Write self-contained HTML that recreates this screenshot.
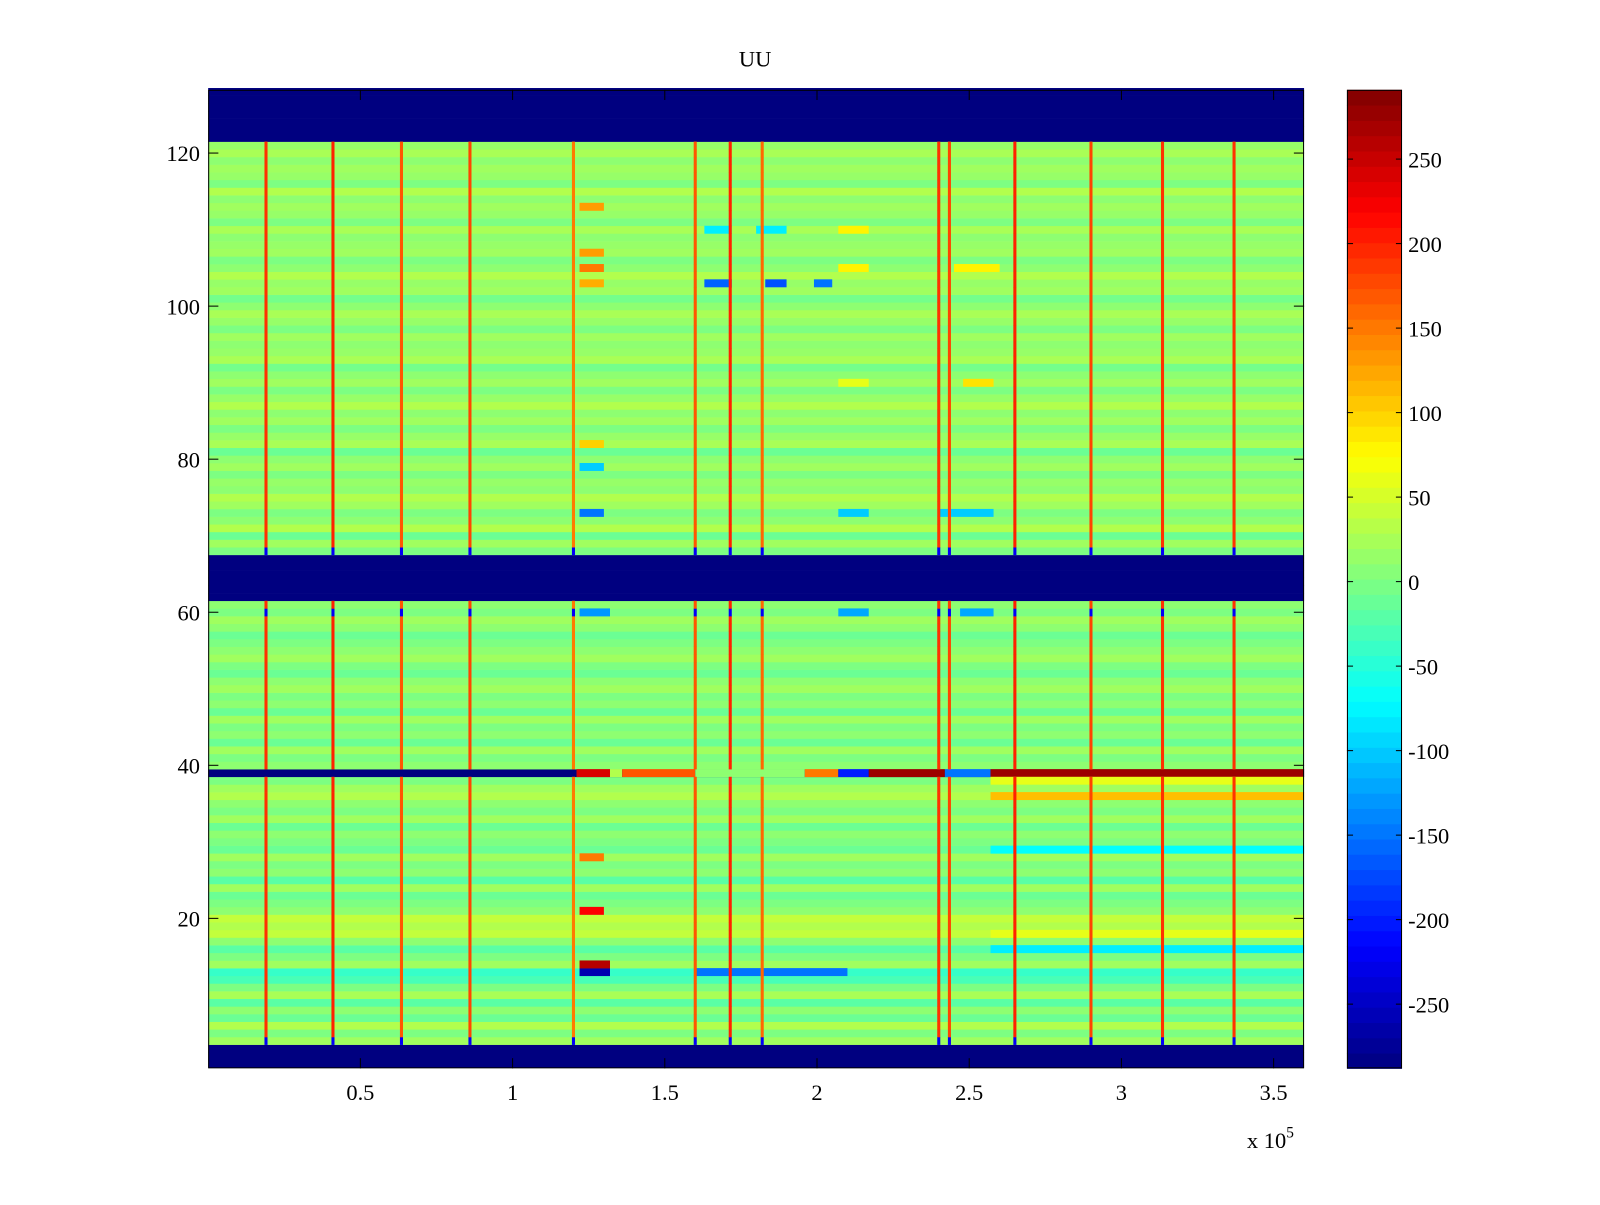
<!DOCTYPE html>
<html><head><meta charset="utf-8"><style>
body{margin:0;background:#fff;}
svg text{font-family:"Liberation Serif",serif;font-size:22px;fill:#000;}
</style></head><body>
<svg id="fig" width="1600" height="1200" xmlns="http://www.w3.org/2000/svg">
<rect width="1600" height="1200" fill="#fff"/>
<g transform="scale(1.0204)">
<text x="740" y="65" text-anchor="middle">UU</text>
<g id="heat"></g>
<g id="axes"></g>
<g id="cbar"></g>
<text x="1222" y="1125">x 10<tspan dy="-10" font-size="15">5</tspan></text>
</g>
</svg>
<script>
// row base values, rows 1..128
const rowBase = [-288,-288,-288,
20,0,30,-10,10,-20,25,0,-30,-40,20,0,-20,10,40,30,40,10,0,-10,20,-20,10,0,20,-10,0,10,-10,20,0,10,30,20,0,-288,10,0,20,-10,10,0,20,-10,10,0,20,10,-10,0,20,10,0,-10,10,20,0,10,
-288,-288,-288,-288,-288,-288,
0,20,-10,30,10,0,20,30,10,15,0,20,10,-10,25,15,0,20,10,30,15,0,20,10,-5,25,15,10,20,0,15,25,10,-5,20,15,30,10,0,20,15,10,25,0,15,20,10,30,0,15,20,10,25,15,
-288,-288,-288,-288,-288,-288,-288];
// segments: row, x-start (1e5), x-end (1e5), value
const segRows = [39,39,39,39,39,39,39,39,39,36,38,13,14,13,29,16,18,21,28,105,107,103,113,73,79,82,103,103,103,110,110,105,110,90,90,105,73,73,60,60,60];
const segX0 = [1.21,1.32,1.36,1.6,1.96,2.07,2.17,2.42,2.57,2.57,2.57,1.22,1.22,1.6,2.57,2.57,2.57,1.22,1.22,1.22,1.22,1.22,1.22,1.22,1.22,1.22,1.63,1.83,1.99,1.63,1.8,2.07,2.07,2.07,2.48,2.45,2.07,2.4,1.22,2.07,2.47];
const segX1 = [1.32,1.36,1.6,1.96,2.07,2.17,2.42,2.57,3.6,3.6,3.6,1.32,1.32,2.1,3.6,3.6,3.6,1.3,1.3,1.3,1.3,1.3,1.3,1.3,1.3,1.3,1.72,1.9,2.05,1.72,1.9,2.17,2.17,2.17,2.58,2.6,2.17,2.58,1.32,2.17,2.58];
const segVal = [240,30,170,10,150,-200,275,-150,275,110,60,-260,260,-150,-70,-80,60,220,150,150,130,120,130,-150,-100,100,-160,-170,-150,-80,-80,80,80,60,90,80,-100,-100,-130,-120,-120];
// vertical stripe events (x in 1e5)
const stripeX = [0.19,0.41,0.635,0.86,1.2,1.6,1.715,1.82,2.4,2.435,2.65,2.9,3.135,3.37];
const stripeVal = [190,200,170,180,150,170,200,160,190,180,200,180,190,190];
const xTicks = [0.5,1,1.5,2,2.5,3,3.5];
const yTicks = [20,40,60,80,100,120];
const cTicks = [-250,-200,-150,-100,-50,0,50,100,150,200,250];
const NS='http://www.w3.org/2000/svg';
const X0=204,X1=1278,XMAX=3.6,Y0=1046.25,DY=7.5;
const cMin=-288,cMax=291;
const xs=v=>X0+v/XMAX*(X1-X0);
const ys=r=>Y0-(r-0.5)*DY;
function jet(v){let t=(v-cMin)/(cMax-cMin);t=Math.max(0,Math.min(1,t));
 const c=x=>Math.round(255*Math.max(0,Math.min(1,1.5-Math.abs(4*t-x))));
 return `rgb(${c(3)},${c(2)},${c(1)})`;}
function rect(g,x,y,w,h,f,name){const r=document.createElementNS(NS,'rect');
 r.setAttribute('x',x);r.setAttribute('y',y);r.setAttribute('width',w);r.setAttribute('height',h);r.setAttribute('fill',f);
 
 
 g.appendChild(r);return r;}
const heat=document.getElementById('heat');
rowBase.forEach((v,i)=>{const r=i+1;rect(heat,X0,ys(r+0.5),X1-X0,DY+0.3,jet(v),'heat-row');});
segRows.forEach((r,i)=>{rect(heat,xs(segX0[i]),ys(r+0.5),xs(segX1[i])-xs(segX0[i]),DY+0.3,jet(segVal[i]),'heat-segment');});
stripeX.forEach((sx,i)=>{
 for(let r=4;r<=121;r++){ if(r>=62&&r<=67) continue; if(r===39) continue;
  let v=stripeVal[i]; if(r===68||r===60||r===4) v=-220;
  rect(heat,xs(sx)-1.5,ys(r+0.5),3,DY+0.3,jet(v),'heat-stripe');}
});
const ax=document.getElementById('axes');
function line(g,x1,y1,x2,y2,name){const l=document.createElementNS(NS,'line');
 l.setAttribute('x1',x1);l.setAttribute('y1',y1);l.setAttribute('x2',x2);l.setAttribute('y2',y2);l.setAttribute('stroke','#000');l.setAttribute('stroke-width','1');
 
 
 g.appendChild(l);}
function text(g,x,y,s,anchor,name){const t=document.createElementNS(NS,'text');t.setAttribute('x',x);t.setAttribute('y',y);t.setAttribute('text-anchor',anchor);t.textContent=s;
 
 
 g.appendChild(t);}
const frame=rect(ax,X0+0.5,88.5,X1-X0-1,958,'none','plot-frame');frame.setAttribute('stroke','#000');
xTicks.forEach(v=>{const x=xs(v);line(ax,x,1047,x,1037,'x-tick');line(ax,x,88,x,98,'x-tick');text(ax,x,1078,String(v),'middle','x-tick-label');});
yTicks.forEach(v=>{const y=1050-v*7.5;line(ax,X0,y,X0+10,y,'y-tick');line(ax,X1,y,X1-10,y,'y-tick');text(ax,X0-8,y+8,String(v),'end','y-tick-label');});
const cb=document.getElementById('cbar');
const CX0=1320,CX1=1374,CY0=88,CY1=1047,NB=64;
for(let i=0;i<NB;i++){const v=cMin+(i+0.5)*(cMax-cMin)/NB;const h=(CY1-CY0)/NB;rect(cb,CX0,CY1-(i+1)*h,CX1-CX0,h+0.5,jet(v),'colorbar-band');}
const cf=rect(cb,CX0+0.5,CY0+0.5,CX1-CX0-1,CY1-CY0-1,'none','colorbar-frame');cf.setAttribute('stroke','#000');
const cy=v=>CY1-(v-cMin)/(cMax-cMin)*(CY1-CY0);
cTicks.forEach(v=>{const y=cy(v);line(cb,CX0,y,CX0+6,y,'colorbar-tick');line(cb,CX1,y,CX1-6,y,'colorbar-tick');text(cb,CX1+6,y+8,String(v),'start','colorbar-tick-label');});
</script>
</body></html>
